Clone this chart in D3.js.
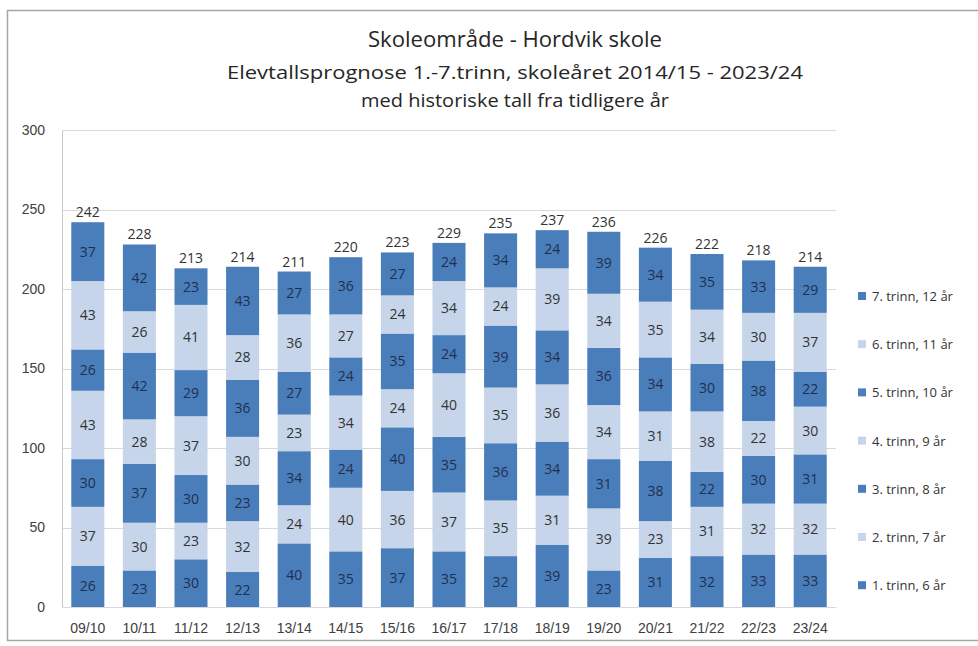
<!DOCTYPE html>
<html><head><meta charset="utf-8">
<script src="https://cdn.jsdelivr.net/npm/d3@7"></script>
<style>
html,body{margin:0;padding:0;background:#fff;}
svg{display:block;font-family:"Open Sans","Liberation Sans",Arial,sans-serif;}
</style></head>
<body>
<svg id="chart" width="978" height="646"></svg>
<script>
const categories = ["09/10","10/11","11/12","12/13","13/14","14/15","15/16","16/17","17/18","18/19","19/20","20/21","21/22","22/23","23/24"];
const seriesNames = ["1. trinn, 6 år","2. trinn, 7 år","3. trinn, 8 år","4. trinn, 9 år","5. trinn, 10 år","6. trinn, 11 år","7. trinn, 12 år"];
const trinn1 = [26,23,30,22,40,35,37,35,32,39,23,31,32,33,33];
const trinn2 = [37,30,23,32,24,40,36,37,35,31,39,23,31,32,32];
const trinn3 = [30,37,30,23,34,24,40,35,36,34,31,38,22,30,31];
const trinn4 = [43,28,37,30,23,34,24,40,35,36,34,31,38,22,30];
const trinn5 = [26,42,29,36,27,24,35,24,39,34,36,34,30,38,22];
const trinn6 = [43,26,41,28,36,27,24,34,24,39,34,35,34,30,37];
const trinn7 = [37,42,23,43,27,36,27,24,34,24,39,34,35,33,29];
const yTicks = [0,50,100,150,200,250,300];
const titleLines = ["Skoleområde - Hordvik skole","Elevtallsprognose 1.-7.trinn, skoleåret 2014/15 - 2023/24","med historiske tall fra tidligere år"];

const seriesValues = [trinn1,trinn2,trinn3,trinn4,trinn5,trinn6,trinn7];
const dark = "#4a7ebb", light = "#c6d5ea";
const colors = seriesNames.map((d,i)=> i%2===0 ? dark : light);

const svg = d3.select("#chart");
// outer frame
svg.append("rect").attr("x",7.5).attr("y",10.5).attr("width",990).attr("height",630)
  .attr("fill","#fff").attr("stroke","#a6a6a6").attr("stroke-width",1.5);

const x = d3.scaleBand().domain(categories).range([62,836]).paddingInner(0.36).paddingOuter(0.18);
const y = d3.scaleLinear().domain([0,300]).range([607,130]);

// gridlines
svg.append("g").selectAll("line").data(yTicks.slice(1)).join("line")
  .attr("x1",62).attr("x2",836).attr("y1",d=>Math.round(y(d))+0.5).attr("y2",d=>Math.round(y(d))+0.5)
  .attr("stroke","#d9d9d9").attr("stroke-width",1);

// axes
const yAxis = svg.append("g").attr("transform","translate(62,0)")
  .call(d3.axisLeft(y).tickValues(yTicks).tickSize(0).tickPadding(17));
yAxis.select(".domain").attr("stroke","#c8c8c8");
yAxis.selectAll("text").attr("font-size",14).attr("fill","#404040");

const xAxis = svg.append("g").attr("transform","translate(0,607)")
  .call(d3.axisBottom(x).tickSize(0).tickPadding(16));
xAxis.select(".domain").attr("stroke","#d9d9d9");
xAxis.selectAll("text").attr("font-size",14).attr("fill","#404040");

// stacked data
const table = categories.map((c,i)=>{const o={cat:c}; seriesNames.forEach((s,j)=>o[s]=seriesValues[j][i]); return o;});
const stack = d3.stack().keys(seriesNames)(table);

const gBars = svg.append("g");
stack.forEach((layer,j)=>{
  const g = gBars.append("g");
  g.selectAll("rect").data(layer).join("rect")
    .attr("x",d=>x(d.data.cat)).attr("width",x.bandwidth())
    .attr("y",d=>y(d[1])).attr("height",d=>y(d[0])-y(d[1]))
    .attr("fill",colors[j]);
  g.selectAll("text").data(layer).join("text")
    .attr("x",d=>x(d.data.cat)+x.bandwidth()/2)
    .attr("y",d=>(y(d[0])+y(d[1]))/2+5)
    .attr("text-anchor","middle").attr("font-size",14)
    .attr("fill", j%2===0 ? "#1f2f4f" : "#333")
    .text(d=>d[1]-d[0]);
});

// totals
const totals = table.map(d=>({cat:d.cat,total:d3.sum(seriesNames,s=>d[s])}));
svg.append("g").selectAll("text").data(totals).join("text")
  .attr("x",d=>x(d.cat)+x.bandwidth()/2).attr("y",d=>y(d.total)-5)
  .attr("text-anchor","middle").attr("font-size",14).attr("fill","#333")
  .text(d=>d.total);

// title
const tl = svg.append("g");
const tSizes=[21,18,18], tY=[47,79,107], tW=[294,576,308];
titleLines.forEach((t,i)=>{
  tl.append("text").attr("x",515).attr("y",tY[i]).attr("text-anchor","middle")
    .attr("font-size",tSizes[i]).attr("fill","#262626")
    .attr("textLength",tW[i]).attr("lengthAdjust","spacingAndGlyphs").text(t);
});

// legend (reverse order)
const leg = svg.append("g");
const legendOrder = seriesNames.map((s,i)=>({s,i})).reverse();
legendOrder.forEach((d,k)=>{
  const yy = 296 + k*48.2;
  leg.append("rect").attr("x",858).attr("y",yy-4).attr("width",8).attr("height",8).attr("fill",colors[d.i]);
  leg.append("text").attr("x",872).attr("y",yy+5).attr("font-size",13).attr("fill","#333").text(d.s);
});
</script>
</body></html>
